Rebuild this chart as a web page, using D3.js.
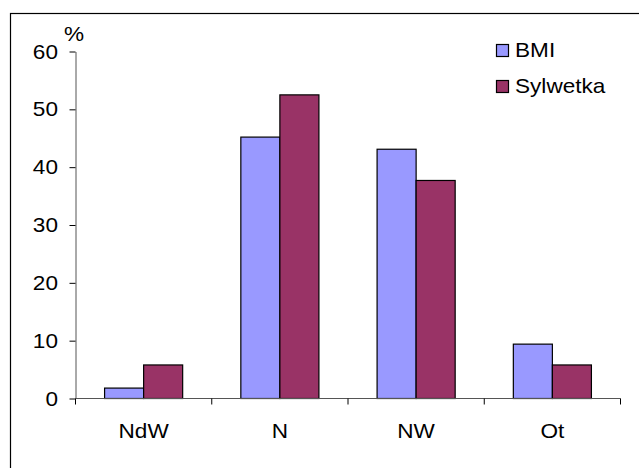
<!DOCTYPE html>
<html>
<head>
<meta charset="utf-8">
<script src="https://cdn.jsdelivr.net/npm/d3@7"></script>
<style>
  html, body { margin: 0; padding: 0; background: #fff; }
  svg { display: block; }
  text { font-family: "Liberation Sans", Arial, sans-serif; fill: #000; }
</style>
</head>
<body>
<svg id="chart" width="639" height="468"></svg>
<script>
// Categories and the two series (percent of respondents)
const categories = ["NdW", "N", "NW", "Ot"];
const seriesNames = ["BMI", "Sylwetka"];
const bmiValues = [1.8, 45.2, 43.1, 9.4];
const sylwetkaValues = [5.8, 52.5, 37.7, 5.8];
const yTicks = [0, 10, 20, 30, 40, 50, 60];
const yUnit = "%";

const colors = { BMI: "#9999FF", Sylwetka: "#993366" };
const valuesBySeries = { BMI: bmiValues, Sylwetka: sylwetkaValues };

const svg = d3.select("#chart");
const W = 639, H = 468;
const plot = { left: 75.5, right: 620.5, top: 51.5, bottom: 398.5 };
const textStretch = 1.13;   // the typeface is drawn slightly widened

// Outer frame (right and bottom edges fall outside the canvas)
svg.append("rect")
  .attr("x", 10.5).attr("y", 13.5)
  .attr("width", W + 20).attr("height", H + 20)
  .attr("fill", "none").attr("stroke", "#000").attr("stroke-width", 1.2);

const x0 = d3.scaleBand().domain(categories).range([plot.left, plot.right]);
const x1 = d3.scaleBand().domain(seriesNames)
  .range([0, x0.bandwidth()]).paddingInner(0).paddingOuter(0.745);
const y = d3.scaleLinear().domain([0, 60]).range([plot.bottom, plot.top]);

function label(g, x, yy, str, size, anchor) {
  g.append("g").attr("transform", `translate(${x},${yy})`)
    .append("text")
    .attr("transform", `scale(${textStretch},1)`)
    .attr("text-anchor", anchor || "start")
    .attr("font-size", size)
    .text(str);
}

// Bars
const groups = svg.append("g").selectAll("g")
  .data(categories)
  .join("g")
  .attr("transform", d => `translate(${x0(d)},0)`);

groups.selectAll("rect")
  .data((c, i) => seriesNames.map(s => ({ s, v: valuesBySeries[s][i] })))
  .join("rect")
  .attr("x", d => x1(d.s))
  .attr("width", x1.bandwidth())
  .attr("y", d => y(d.v))
  .attr("height", d => y(0) - y(d.v))
  .attr("fill", d => colors[d.s])
  .attr("stroke", "#000")
  .attr("stroke-width", 1.2);

// Y axis
const yAxis = svg.append("g")
  .attr("transform", `translate(${plot.left},0)`)
  .call(d3.axisLeft(y).tickValues(yTicks).tickSize(6).tickSizeOuter(0).tickFormat(""));
yAxis.select(".domain").attr("stroke", "#555");
yAxis.selectAll(".tick line").attr("stroke", "#000");

const yLabels = svg.append("g");
yTicks.forEach(t => label(yLabels, plot.left - 17.5, y(t) + 7, String(t), 20, "end"));
label(svg, 64, 41, yUnit, 20, "start");

// X axis: baseline with ticks on the category boundaries
const xAxis = svg.append("g");
xAxis.append("line")
  .attr("x1", plot.left).attr("x2", plot.right)
  .attr("y1", y(0)).attr("y2", y(0))
  .attr("stroke", "#555");
const boundaries = categories.map(c => x0(c)).concat([x0.range()[1]]);
xAxis.selectAll("line.tick")
  .data(boundaries)
  .join("line")
  .attr("class", "tick")
  .attr("x1", d => d).attr("x2", d => d)
  .attr("y1", y(0)).attr("y2", y(0) + 6)
  .attr("stroke", "#000");
categories.forEach(c => label(xAxis, x0(c) + x0.bandwidth() / 2, 438, c, 20, "middle"));

// Legend
const legend = svg.append("g");
seriesNames.forEach((s, i) => {
  const ly = 44 + i * 36;
  legend.append("rect")
    .attr("x", 496.5).attr("y", ly + 0.5)
    .attr("width", 12).attr("height", 12)
    .attr("fill", colors[s]).attr("stroke", "#000").attr("stroke-width", 1.2);
  label(legend, 515, ly + 13, s, 20, "start");
});
</script>
</body>
</html>
